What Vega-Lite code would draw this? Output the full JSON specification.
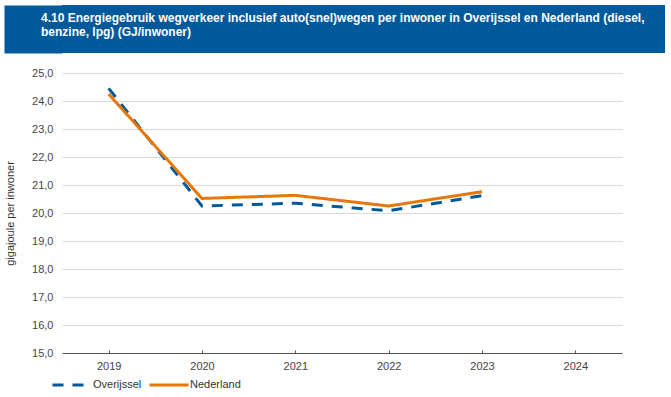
{
  "$schema": "https://vega.github.io/schema/vega-lite/v6.json",
  "background": "white",
  "padding": {"left": 4, "top": 5, "right": 6, "bottom": 0},
  "config": {
    "view": {"stroke": null},
    "font": "Liberation Sans"
  },
  "columns": 1,
  "align": "none",
  "bounds": "full",
  "spacing": 14,
  "resolve": {"legend": {"color": "independent", "strokeDash": "independent"}},
  "concat": [
    {
      "width": 603,
      "height": 48,
      "view": {"fill": "#00599B", "stroke": null},
      "title": {
        "text": ["4.10 Energiegebruik wegverkeer inclusief auto(snel)wegen per inwoner in Overijssel en Nederland (diesel,", "benzine, lpg) (GJ/inwoner)"],
        "color": "white",
        "fontSize": 12,
        "fontWeight": "bold",
        "anchor": "start",
        "frame": "group",
        "offset": -34,
        "dx": -21,
        "lineHeight": 14
      },
      "data": {"values": [{}]},
      "mark": {"type": "point", "opacity": 0, "size": 1},
      "encoding": {
        "y": {
          "datum": 0.5,
          "type": "quantitative",
          "scale": {"domain": [0, 1]},
          "axis": {
            "title": null,
            "labels": false,
            "ticks": false,
            "grid": false,
            "domain": true,
            "domainColor": "#00599B",
            "domainWidth": 58,
            "domainCap": "butt",
            "offset": 29
          }
        }
      }
    },
    {
      "width": 560,
      "height": 280,
      "data": {
        "values": [
          {"jaar": "2019", "gebied": "Overijssel", "waarde": 24.45},
          {"jaar": "2020", "gebied": "Overijssel", "waarde": 20.25},
          {"jaar": "2021", "gebied": "Overijssel", "waarde": 20.35},
          {"jaar": "2022", "gebied": "Overijssel", "waarde": 20.08},
          {"jaar": "2023", "gebied": "Overijssel", "waarde": 20.62},
          {"jaar": "2019", "gebied": "Nederland", "waarde": 24.25},
          {"jaar": "2020", "gebied": "Nederland", "waarde": 20.52},
          {"jaar": "2021", "gebied": "Nederland", "waarde": 20.63},
          {"jaar": "2022", "gebied": "Nederland", "waarde": 20.25},
          {"jaar": "2023", "gebied": "Nederland", "waarde": 20.76}
        ]
      },
      "mark": {"type": "line", "strokeWidth": 3, "strokeCap": "butt"},
      "encoding": {
        "x": {
          "field": "jaar",
          "type": "ordinal",
          "scale": {"type": "point", "padding": 0.5, "domain": ["2019", "2020", "2021", "2022", "2023", "2024"]},
          "axis": {
            "title": null,
            "labelAngle": 0,
            "domainColor": "#555555",
            "tickColor": "#555555",
            "tickSize": -3,
            "labelPadding": 10,
            "labelFontSize": 11,
            "labelColor": "#444444",
            "grid": false
          }
        },
        "y": {
          "field": "waarde",
          "type": "quantitative",
          "scale": {"domain": [15, 25], "nice": false, "zero": false},
          "axis": {
            "title": "gigajoule per inwoner",
            "titleFontSize": 11,
            "titleFontWeight": "normal",
            "titleColor": "#333333",
            "titlePadding": 16,
            "values": [15, 16, 17, 18, 19, 20, 21, 22, 23, 24, 25],
            "labelExpr": "replace(format(datum.value, '.1f'), '.', ',')",
            "labelFontSize": 11,
            "labelColor": "#444444",
            "labelPadding": 9,
            "domain": false,
            "ticks": false,
            "gridColor": "#d9d9d9",
            "gridWidth": 1
          }
        },
        "color": {
          "field": "gebied",
          "type": "nominal",
          "sort": ["Overijssel", "Nederland"],
          "scale": {"domain": ["Overijssel", "Nederland"], "range": ["#00599B", "#E8770A"]},
          "legend": {
            "title": null,
            "orient": "none",
            "direction": "horizontal",
            "legendX": -11,
            "legendY": 291,
            "symbolType": "stroke",
            "symbolSize": 1521,
            "symbolStrokeWidth": 3,
            "labelFontSize": 11,
            "labelColor": "#333333",
            "columnPadding": 1,
            "labelOffset": 0
          }
        },
        "strokeDash": {
          "field": "gebied",
          "type": "nominal",
          "sort": ["Overijssel", "Nederland"],
          "scale": {"domain": ["Overijssel", "Nederland"], "range": [[11, 9], [1, 0]]},
          "legend": {
            "title": null,
            "orient": "none",
            "direction": "horizontal",
            "legendX": -11,
            "legendY": 291,
            "symbolType": "stroke",
            "symbolSize": 1521,
            "symbolStrokeWidth": 3,
            "labelFontSize": 11,
            "labelColor": "#333333",
            "columnPadding": 1,
            "labelOffset": 0
          }
        }
      }
    }
  ]
}
